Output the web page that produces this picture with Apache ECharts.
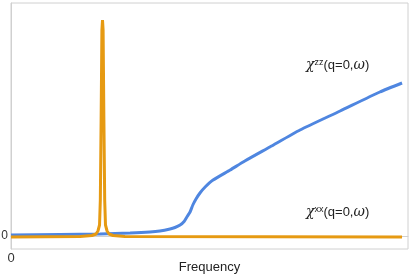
<!DOCTYPE html>
<html><head><meta charset="utf-8">
<script src="https://cdn.jsdelivr.net/npm/echarts@6/dist/echarts.min.js"></script>
<style>html,body{margin:0;padding:0;background:#fff}#c{width:409px;height:276px}</style>
</head><body><div id="c"></div>
<script>
// Frequency (arbitrary units 0..100), response (arbitrary units)
const zzFreq = [0, 12.3, 22.4, 30, 35, 37.5, 40.05, 41.3, 42.6, 43.6, 44.3, 45.1, 45.8, 46.6, 47.6, 48.9, 50.9, 55.2, 58.9, 65.2, 72.8, 82.9, 92.9, 98.5];
const zzVal  = [1, 1.5, 2, 3, 4, 5, 7, 8.5, 11, 14.5, 19, 24, 31, 37, 43, 49, 56, 66, 75, 89, 106, 125, 144, 153];
const xxFreq = [0, 17.4, 20.4, 21.4, 21.9, 22.3, 22.5, 22.7, 22.9, 23.05, 23.2, 23.4, 23.6, 23.8, 24.2, 24.7, 25.7, 28.7, 98.5];
const xxVal  = [-1, -0.5, 0.5, 2, 5, 11, 36, 116, 206, 216, 206, 116, 36, 11, 5, 2, 0.5, -0.5, -1];
const xTicks = [0];
const yTicks = [0];
const xName = 'Frequency';

const chart = echarts.init(document.getElementById('c'), null, {renderer: 'canvas'});
const frame = '#d0d0d0';
chart.setOption({
  animation: false,
  grid: {left: 11, right: 1, top: 3, bottom: 27, show: true, borderColor: frame, borderWidth: 1,
         containLabel: false, outerBoundsMode: 'none'},
  xAxis: {
    type: 'value', min: 0, max: 100,
    name: xName, nameLocation: 'middle', nameGap: 12, nameMoveOverlap: false,
    nameTextStyle: {fontFamily: 'Liberation Sans', fontSize: 13, color: '#222'},
    axisLine: {show: true, lineStyle: {color: frame}},
    axisTick: {show: false}, splitLine: {show: false},
    axisLabel: {customValues: xTicks, fontFamily: 'Liberation Sans', fontSize: 13, color: '#333', margin: 3}
  },
  yAxis: {
    type: 'value', min: -13, max: 233,
    axisLine: {show: true, lineStyle: {color: frame}},
    axisTick: {show: false}, splitLine: {show: false},
    axisLabel: {customValues: yTicks, fontFamily: 'Liberation Sans', fontSize: 12, color: '#333', margin: 3}
  },
  series: [
    {type: 'line', data: zzFreq.map((x, i) => [x, zzVal[i]]), smooth: 0.2, showSymbol: false,
     lineStyle: {color: '#4f86e0', width: 3}, z: 2},
    {type: 'line', data: xxFreq.map((x, i) => [x, xxVal[i]]), smooth: false, showSymbol: false,
     lineStyle: {color: '#e69a12', width: 3}, z: 3}
  ],
  graphic: [
    {type: 'text', left: 306, top: 58, style: {
      text: '{i|χ}{s|zz}{n|(q=0,}{i|ω}{n|)}',
      rich: {
        i: {fontFamily: 'DejaVu Serif', fontStyle: 'italic', fontSize: 14, fill: '#222'},
        s: {fontFamily: 'Liberation Sans', fontSize: 9, fill: '#222', verticalAlign: 'top', padding: [0,0,6,0]},
        n: {fontFamily: 'Liberation Sans', fontSize: 13, fill: '#222'}
      }}},
    {type: 'text', left: 306, top: 205, style: {
      text: '{i|χ}{s|xx}{n|(q=0,}{i|ω}{n|)}',
      rich: {
        i: {fontFamily: 'DejaVu Serif', fontStyle: 'italic', fontSize: 14, fill: '#222'},
        s: {fontFamily: 'Liberation Sans', fontSize: 9, fill: '#222', verticalAlign: 'top', padding: [0,0,6,0]},
        n: {fontFamily: 'Liberation Sans', fontSize: 13, fill: '#222'}
      }}}
  ]
});
</script></body></html>
